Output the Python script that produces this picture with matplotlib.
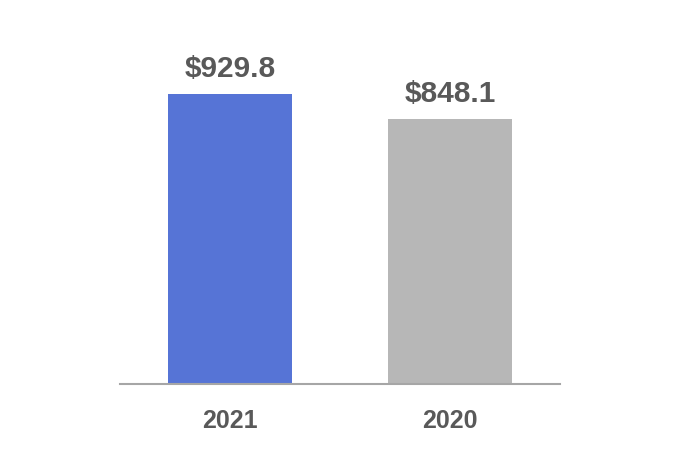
import matplotlib.pyplot as plt

years = ['2021', '2020']
values = [929.8, 848.1]
labels = ['$929.8', '$848.1']
colors = ['#5674D6', '#B7B7B7']

plt.rcParams['font.family'] = ['Liberation Sans', 'DejaVu Sans']

fig = plt.figure(figsize=(6.8, 4.5), dpi=100)
# baseline at y=384 px, axis from x=120 to 560 px
ax = fig.add_axes([120 / 680, 66 / 450, 440 / 680, 311.9 / 450])

x = range(len(years))
bars = ax.bar(x, values, width=0.5636, color=colors)
ax.set_xlim(-0.5, 1.5)
ax.set_ylim(0, 1000)

for b, lab in zip(bars, labels):
    ax.annotate(lab, (b.get_x() + b.get_width() / 2, b.get_height()),
                xytext=(0, 8), textcoords='offset points', ha='center', va='bottom',
                fontsize=21.5, fontweight='bold', color='#595959')

ax.set_xticks(list(x))
ax.set_xticklabels(years, fontsize=18, fontweight='bold', color='#595959')
ax.tick_params(axis='x', length=0, pad=18)
ax.set_yticks([])
for s in ['top', 'right', 'left']:
    ax.spines[s].set_visible(False)
ax.spines['bottom'].set_color('#A6A6A6')
ax.spines['bottom'].set_linewidth(1.5)

fig.savefig('out.png', dpi=100)
